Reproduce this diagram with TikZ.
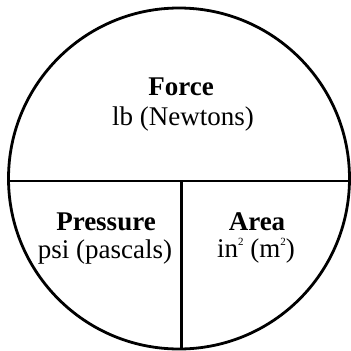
\documentclass[tikz,border=0pt]{standalone}
\usepackage{fontspec}
\setmainfont{Liberation Serif}
\usetikzlibrary{calc}

\tikzset{
  rim/.style={black, line width=2.8pt},
  title/.style={anchor=base, inner sep=0pt, font=\fontsize{27}{30}\selectfont\bfseries},
  unit/.style={anchor=base, inner sep=0pt, font=\fontsize{27}{30}\selectfont}
}
\newcommand{\tinysq}{\raisebox{0.42em}{\fontsize{11}{11}\selectfont 2}}

\begin{document}
\begin{tikzpicture}[x=1pt, y=-1pt]
\useasboundingbox (0,0) rectangle (351,351);

  % Define the positions of the points
  \coordinate (O) at (179, 178.5);
  \coordinate (L) at (8.5, 181);
  \coordinate (R) at (349.5, 181);
  \coordinate (M) at (181.5, 181);
  \coordinate (S) at (181.5, 349);

  % Draw the circle and the dividing lines
  \draw[rim] (O) circle (170.5pt);
  \draw[rim] (L) -- (R);
  \draw[rim] (M) -- (S);

  % Labels
  \node[title] (force) at (181, 95) {Force};
  \node[unit] (forceunit) at (183, 125) {lb (Newtons)};

  \node[title] (pressure) at (106, 230) {Pressure};
  \node[unit] (pressureunit) at (105, 258) {psi (pascals)};

  \node[title] (area) at (257, 230) {Area};
  \node[unit] (areaunit) at (256, 257) {in\tinysq\ (m\tinysq)};

\end{tikzpicture}
\end{document}
